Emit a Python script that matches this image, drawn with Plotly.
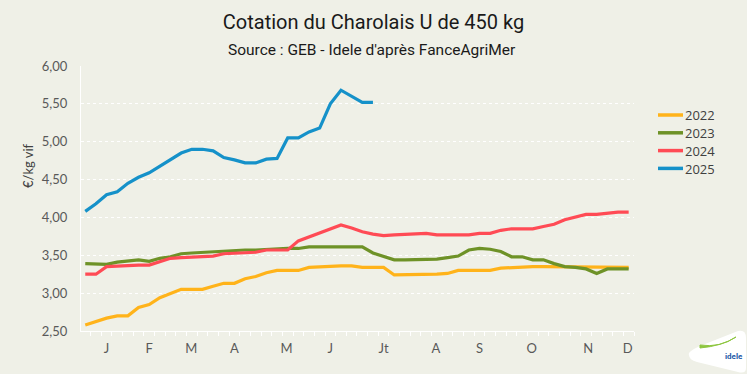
import plotly.graph_objects as go

weeks = list(range(1, 53))

y2022 = [2.58, 2.63, 2.67, 2.70, 2.70, 2.81, 2.85, 2.94, 3.00, 3.05, 3.05, 3.05, 3.09, 3.13, 3.13,
         3.19, 3.22, 3.27, 3.30, 3.30, 3.30, 3.34, 3.35, 3.36, 3.36, 3.36, 3.34, 3.34, 3.34, 3.24,
         3.24, 3.24, 3.24, 3.25, 3.26, 3.30, 3.30, 3.30, 3.30, 3.33, 3.34, 3.35, 3.35, 3.35, 3.35,
         3.35, 3.34, 3.34, 3.35, 3.34, 3.34, 3.34]
y2023 = [3.39, 3.39, 3.38, 3.41, 3.43, 3.44, 3.42, 3.46, 3.48, 3.52, 3.53, 3.54, 3.54, 3.56, 3.56,
         3.57, 3.57, 3.58, 3.58, 3.59, 3.59, 3.61, 3.61, 3.61, 3.61, 3.61, 3.61, 3.53, 3.49, 3.44,
         3.44, 3.44, 3.44, 3.45, 3.47, 3.49, 3.57, 3.59, 3.58, 3.55, 3.48, 3.48, 3.44, 3.44, 3.39,
         3.35, 3.34, 3.32, 3.26, 3.32, 3.32, 3.32]
y2024 = [3.25, 3.25, 3.35, 3.36, 3.36, 3.37, 3.37, 3.41, 3.46, 3.47, 3.48, 3.49, 3.49, 3.52, 3.53,
         3.54, 3.54, 3.57, 3.57, 3.57, 3.69, 3.74, 3.79, 3.85, 3.90, 3.86, 3.81, 3.78, 3.76, 3.77,
         3.78, 3.79, 3.79, 3.77, 3.77, 3.77, 3.77, 3.79, 3.79, 3.83, 3.85, 3.85, 3.85, 3.88, 3.91,
         3.97, 4.01, 4.04, 4.04, 4.06, 4.07, 4.07]
y2025 = [4.08, 4.18, 4.30, 4.34, 4.45, 4.53, 4.59, 4.68, 4.76, 4.85, 4.90, 4.90, 4.88, 4.79, 4.76,
         4.72, 4.72, 4.77, 4.78, 5.05, 5.05, 5.13, 5.18, 5.50, 5.68, 5.60, 5.52, 5.52]

series_names = ["2022", "2023", "2024", "2025"]
series_values = [y2022, y2023, y2024, y2025]
series_colors = ["#FFB31A", "#6E9227", "#FF4B55", "#1591C9"]

month_labels = ["J", "F", "M", "A", "M", "J", "Jt", "A", "S", "O", "N", "D"]
month_pos = [3.0, 7.0, 10.95, 15.0, 19.9, 24.0, 29.0, 33.9, 38.0, 42.9, 48.2, 51.9]

y_ticks = [2.5, 3.0, 3.5, 4.0, 4.5, 5.0, 5.5, 6.0]

W, H = 747, 374
L, R, T, B = 81, 634, 66, 331


def px(x):
    return (x - L) / (R - L)


def py(y):
    return (B - y) / (B - T)


fig = go.Figure()
for name, vals, col in zip(series_names, series_values, series_colors):
    fig.add_trace(go.Scatter(
        x=weeks[:len(vals)], y=vals, mode="lines", name=name,
        line=dict(color=col, width=3.2), hoverinfo="skip", showlegend=False,
    ))

bg = "#EFF0E7"
tick_font = dict(family="Lato, Open Sans, sans-serif", size=13, color="#595959")

fig.update_layout(
    width=W, height=H,
    paper_bgcolor=bg, plot_bgcolor=bg,
    margin=dict(l=L, r=W - R, t=T, b=H - B, pad=0),
    separators=", ",
    showlegend=False,
    title=dict(
        text="Cotation du Charolais U de 450 kg",
        x=0.5, xanchor="center", y=1 - 22 / H, yanchor="middle",
        font=dict(family="Roboto, sans-serif", size=20, color="#1a1a1a"),
    ),
    xaxis=dict(
        range=[0.6, 52.5], tickmode="array", tickvals=month_pos, ticktext=month_labels,
        showgrid=False, zeroline=False, showline=True, linecolor="#ffffff", linewidth=1,
        ticks="", tickfont=tick_font, ticklabelstandoff=5,
        minor=dict(tickmode="linear", tick0=0.5, dtick=1, ticks="outside", ticklen=4,
                   tickcolor="#ffffff", tickwidth=1, showgrid=False),
        fixedrange=True,
    ),
    yaxis=dict(
        range=[2.5, 6.0], tickmode="array", tickvals=y_ticks, tickformat=".2f",
        showgrid=True, gridcolor="#ffffff", griddash="dot", gridwidth=1,
        zeroline=False, showline=True, linecolor="#ffffff", linewidth=1,
        ticks="", tickfont=tick_font, ticklabelstandoff=10,
        fixedrange=True,
    ),
)

fig.add_annotation(
    text="Source : GEB - Idele d'après FanceAgriMer",
    xref="paper", yref="paper", x=px(372), y=py(50), xanchor="center", yanchor="middle",
    showarrow=False,
    font=dict(family="Roboto, sans-serif", size=15.5, color="#1a1a1a"),
)
fig.add_annotation(
    text="€/kg vif", textangle=-90,
    xref="paper", yref="paper", x=px(28), y=py(166), xanchor="center", yanchor="middle",
    showarrow=False,
    font=dict(family="Lato, Open Sans, sans-serif", size=13, color="#404040"),
)

# legend (swatches + labels)
leg_y0, leg_dy = 115, 17.8
for i, (name, col) in enumerate(zip(series_names, series_colors)):
    yy = leg_y0 + i * leg_dy
    fig.add_shape(type="line", xref="paper", yref="paper",
                  x0=px(658), x1=px(683), y0=py(yy), y1=py(yy),
                  line=dict(color=col, width=3.5))
    fig.add_annotation(text=name, xref="paper", yref="paper", x=px(684), y=py(yy),
                       xanchor="left", yanchor="middle", showarrow=False, height=15,
                       borderpad=0,
                       font=dict(family="Open Sans, sans-serif", size=13, color="#404040"))

# logo (white badge)
fig.add_shape(
    type="path", xref="paper", yref="paper",
    path=(f"M {px(689)},{py(355)} Q {px(687)},{py(352)} {px(700)},{py(346)} "
          f"L {px(738)},{py(331)} Q {px(746)},{py(329)} {px(746)},{py(338)} "
          f"L {px(746)},{py(368)} Q {px(746)},{py(374)} {px(738)},{py(372)} "
          f"L {px(697)},{py(362)} Q {px(689)},{py(360)} {px(689)},{py(355)} Z"),
    fillcolor="#ffffff", line=dict(width=0), layer="above",
)
fig.add_shape(
    type="path", xref="paper", yref="paper",
    path=f"M {px(700)},{py(345)} Q {px(720)},{py(348)} {px(736)},{py(337)} Q {px(722)},{py(346)} {px(700)},{py(348)} Z",
    fillcolor="#8DC63F", line=dict(color="#8DC63F", width=1), layer="above",
)
fig.add_annotation(
    text="<b>idele</b>", xref="paper", yref="paper", x=px(734), y=py(356),
    xanchor="center", yanchor="middle", showarrow=False,
    font=dict(family="Roboto, sans-serif", size=8, color="#1E5AA8"),
)

fig.write_html("out.html", config={"displayModeBar": False},
               post_script="document.body.style.margin='0';")
